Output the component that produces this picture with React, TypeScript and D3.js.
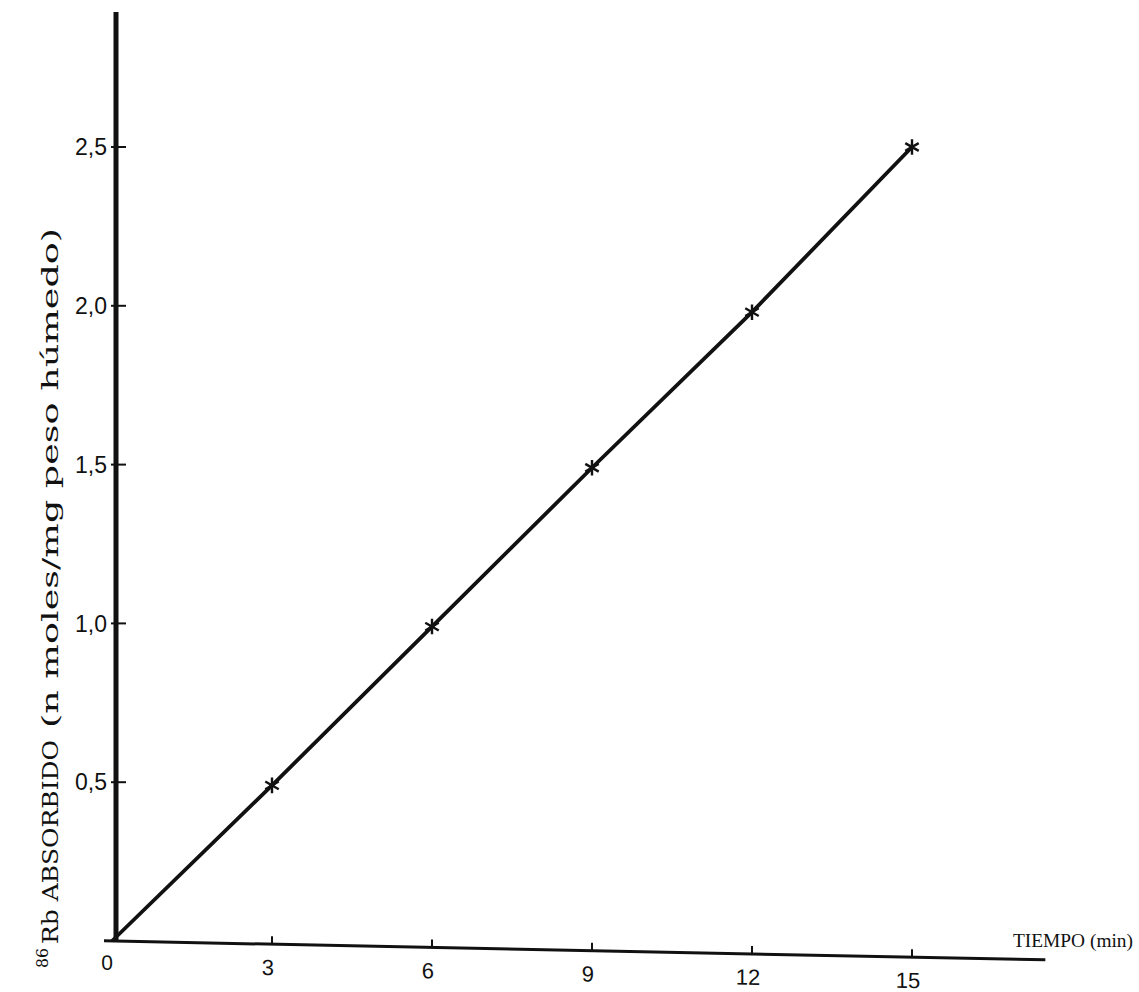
import React from "react";
import * as d3 from "d3";

const timeMin = [3, 6, 9, 12, 15];
const rbAbsorbed = [0.49, 0.99, 1.49, 1.98, 2.5];
const xTickValues = [3, 6, 9, 12, 15];
const xTickLabels = ["3", "6", "9", "12", "15"];
const yTickValues = [0.5, 1.0, 1.5, 2.0, 2.5];
const yTickLabels = ["0,5", "1,0", "1,5", "2,0", "2,5"];
const xAxisExtent = [-0.15, 17.5];
const yAxisExtent = [0, 2.925];

const W = 1139;
const H = 992;

export default function App() {
  const x = d3.scaleLinear().domain([0, 15]).range([112, 912]);
  const y = d3.scaleLinear().domain([0, 2.5]).range([941, 147]);

  const x0 = x(0);
  const y0 = y(0);
  const skewDeg = (Math.atan(19 / 940) * 180) / Math.PI;

  const linePts: [number, number][] = [[0, 0], ...timeMin.map((t, i) => [t, rbAbsorbed[i]] as [number, number])];
  const line = d3
    .line<[number, number]>()
    .x((d) => x(d[0]))
    .y((d) => y(d[1]));

  const star = d3.symbol().type(d3.symbolAsterisk).size(170)();
  const serif = "'DejaVu Serif', 'Liberation Serif', serif";
  const serif2 = "'Liberation Serif', 'Times New Roman', serif";

  return (
    <svg
      width={W}
      height={H}
      viewBox={`0 0 ${W} ${H}`}
      style={{ position: "absolute", left: 0, top: 0, background: "#fff" }}
    >
      <rect x={0} y={0} width={W} height={H} fill="#fff" />

      {/* Y axis */}
      <line x1={x0 + 4} x2={x0 + 4} y1={y(yAxisExtent[1])} y2={y0} stroke="#111" strokeWidth={5} />
      {yTickValues.map((v, i) => (
        <g key={"yt" + i}>
          <line x1={x0 - 1} x2={x0 + 14} y1={y(v)} y2={y(v)} stroke="#111" strokeWidth={2} />
          <text
            x={x0 - 5}
            y={y(v)}
            dy="0.36em"
            textAnchor="end"
            fontFamily="'Liberation Sans', Arial, sans-serif"
            fontSize={23}
            fill="#111"
          >
            {yTickLabels[i]}
          </text>
        </g>
      ))}

      {/* X axis (slightly slanted as in the original drawing) */}
      <g transform={`translate(${x0},${y0}) skewY(${skewDeg}) translate(${-x0},0)`}>
        <line
          x1={x(xAxisExtent[0])}
          x2={x(xAxisExtent[1])}
          y1={0}
          y2={0}
          stroke="#111"
          strokeWidth={3}
        />
        {xTickValues.map((v, i) => (
          <g key={"xt" + i}>
            <line x1={x(v)} x2={x(v)} y1={0} y2={-8} stroke="#111" strokeWidth={2} />
            <text
              x={x(v) - 4}
              y={31}
              textAnchor="middle"
              fontFamily="'Liberation Sans', Arial, sans-serif"
              fontSize={22}
              fill="#111"
            >
              {xTickLabels[i]}
            </text>
          </g>
        ))}
        <text
          x={x0 - 5}
          y={29}
          textAnchor="middle"
          fontFamily="'Liberation Sans', Arial, sans-serif"
          fontSize={21}
          fill="#111"
        >
          0
        </text>
      </g>

      {/* data line */}
      <path d={line(linePts) ?? ""} fill="none" stroke="#111" strokeWidth={3.8} />
      {timeMin.map((t, i) => (
        <path
          key={"p" + i}
          d={star ?? ""}
          transform={`translate(${x(t)},${y(rbAbsorbed[i])})`}
          fill="none"
          stroke="#111"
          strokeWidth={2.4}
        />
      ))}

      {/* axis titles */}
      <text
        x={1013}
        y={947}
        fontFamily={serif2}
        fontSize={19}
        textLength={120}
        lengthAdjust="spacingAndGlyphs"
        fill="#111"
      >
        TIEMPO (min)
      </text>
      <g transform="translate(58,0) rotate(-90)">
        <text x={-968} y={-10} fontFamily={serif} fontSize={16} textLength={20} lengthAdjust="spacingAndGlyphs" fill="#111">
          86
        </text>
        <text x={-944} y={0} fontFamily={serif} fontSize={23} textLength={204} lengthAdjust="spacingAndGlyphs" fill="#111">
          Rb ABSORBIDO
        </text>
        <text x={-728} y={0} fontFamily={serif} fontSize={23} textLength={500} lengthAdjust="spacingAndGlyphs" fill="#111">
          (n moles/mg peso húmedo)
        </text>
      </g>
    </svg>
  );
}
